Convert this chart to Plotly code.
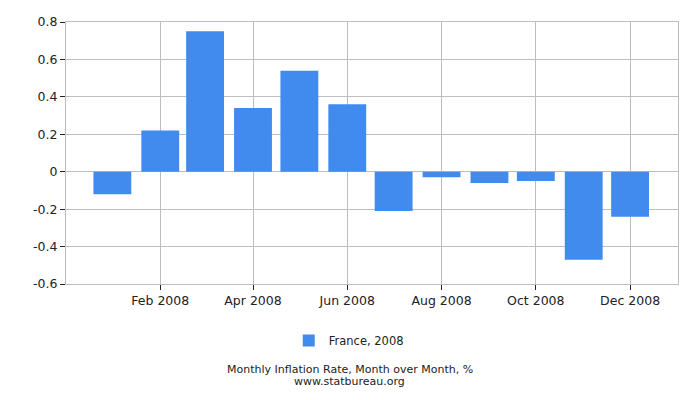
import plotly.graph_objects as go

months = ["2008-01-01", "2008-02-01", "2008-03-01", "2008-04-01", "2008-05-01", "2008-06-01",
          "2008-07-01", "2008-08-01", "2008-09-01", "2008-10-01", "2008-11-01", "2008-12-01"]
values = [-0.12, 0.22, 0.75, 0.34, 0.54, 0.36, -0.21, -0.03, -0.06, -0.05, -0.47, -0.24]
series_name = "France, 2008"
x_tickvals = months[1::2]
x_ticktext = ["Feb 2008", "Apr 2008", "Jun 2008", "Aug 2008", "Oct 2008", "Dec 2008"]
y_ticks = [-0.6, -0.4, -0.2, 0, 0.2, 0.4, 0.6, 0.8]
y_ticktext = ["-0.6", "-0.4", "-0.2", "0", "0.2", "0.4", "0.6", "0.8"]

DAY_MS = 86400000
fig = go.Figure()
fig.add_trace(go.Bar(
    x=months, y=values, name=series_name,
    marker=dict(color="#428BEE", line=dict(width=0)),
    width=[24.5 * DAY_MS] * len(months),
    showlegend=True,
))

grid = "#BDBDBD"
fig.update_layout(
    width=700, height=400,
    margin=dict(l=58, r=30, t=14, b=124),
    paper_bgcolor="white", plot_bgcolor="white",
    font=dict(family="DejaVu Sans", size=12, color="#222"),
    xaxis=dict(
        type="date", range=["2007-12-02", "2009-01-01"],
        tickvals=x_tickvals, ticktext=x_ticktext,
        showgrid=True, gridcolor=grid, gridwidth=1,
        ticks="outside", ticklen=5, tickcolor="#222",
        showline=True, linecolor=grid, mirror=True,
        zeroline=False, tickfont=dict(size=12.5), automargin=False,
    ),
    yaxis=dict(
        range=[-0.6, 0.8], tickvals=y_ticks, ticktext=y_ticktext,
        showgrid=True, gridcolor=grid, gridwidth=1,
        ticks="outside", ticklen=5, tickcolor="#222",
        showline=True, linecolor=grid, mirror=True,
        zeroline=False, tickfont=dict(size=12.5), automargin=False,
    ),
    legend=dict(orientation="h", x=0.462, xanchor="center", y=-0.16, yanchor="top",
                font=dict(size=11.5)),
    bargap=0.2,
)
fig.add_annotation(text="Monthly Inflation Rate, Month over Month, %",
                   xref="paper", yref="paper", x=0.464, y=-0.328, xanchor="center", yanchor="middle",
                   showarrow=False, font=dict(size=11, color="#222"))
fig.add_annotation(text="www.statbureau.org",
                   xref="paper", yref="paper", x=0.464, y=-0.372, xanchor="center", yanchor="middle",
                   showarrow=False, font=dict(size=11, color="#222"))
fig.write_html("out.html")
